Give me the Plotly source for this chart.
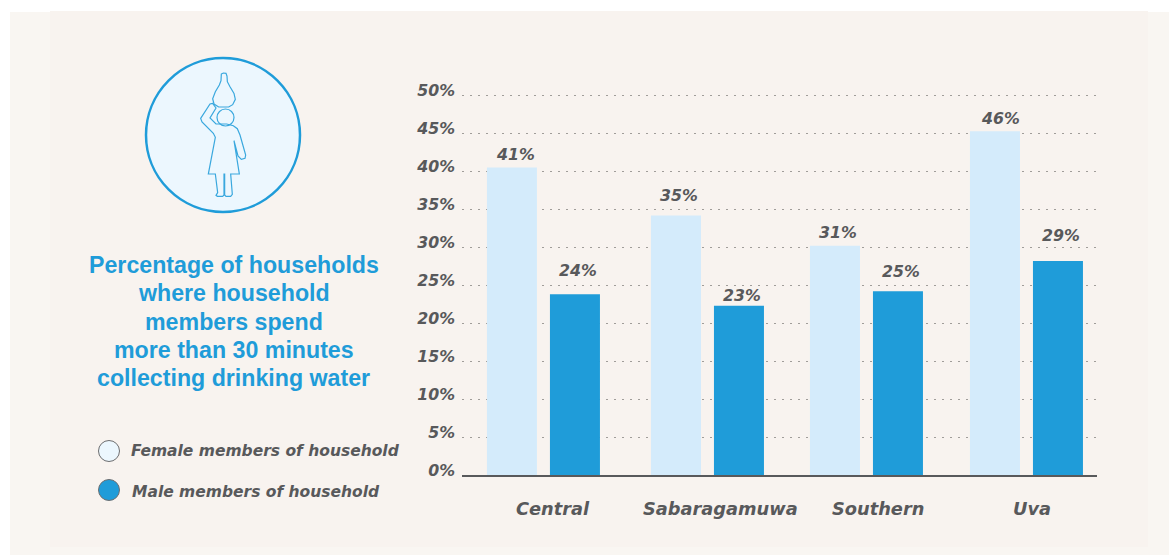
import plotly.graph_objects as go

W, H = 1169, 556
L, R, T, B = 462, 1097, 95.5, 475
Y_TOP = 50.2
T_EXT = B - (B - T) * Y_TOP / 50
STEP = 161  # pixels per category on the x axis

categories = ["Central", "Sabaragamuwa", "Southern", "Uva"]
female_values = [40.5, 34.2, 30.2, 45.3]
male_values = [23.8, 22.3, 24.2, 28.2]
female_labels = ["41%", "35%", "31%", "46%"]
male_labels = ["24%", "23%", "25%", "29%"]
y_ticks = list(range(0, 55, 5))
y_tick_labels = [f"{v}%" for v in y_ticks]
title_lines = ["Percentage of households", "where household", "members spend",
               "more than 30 minutes", "collecting drinking water"]

# style: pixel adjustments, not data
group_nudge = [-0.5, 2.5, 0.5, -0.5]
category_label_shift = [9, 16, 12, 5]
female_label_shift = [4, 3, 3, 6]
male_label_shift = [3, 3, 3, 3]
female_label_lift = [13, 20, 13, 13]
male_label_lift = [24, 10, 20, 25]

BLUE = "#1f9cd9"
PALE = "#d4ebfb"
TEXT = "#58595b"
FONT = "DejaVu Sans"
BOLD = "<b><i>%s</i></b>"


def px(x):
    return (x - L) / (R - L)


def py(y):
    return (B - y) / (B - T_EXT)


def rect(x0, y0, x1, y1, fill, line=None, width=0, kind="rect", layer="below"):
    return dict(type=kind, xref="paper", yref="paper", x0=px(x0), x1=px(x1), y0=py(y0), y1=py(y1),
                fillcolor=fill, line=dict(color=line or fill, width=width), layer=layer)


def zoom_path(points, closed=True):
    pts = [(130 + a / 3, 40 + b / 3) for a, b in points]
    d = "M" + " L".join(f"{px(a):.5f},{py(b):.5f}" for a, b in pts)
    return dict(type="path", xref="paper", yref="paper", path=d + (" Z" if closed else ""),
                line=dict(color="#3aa8de", width=1.2), fillcolor="rgba(0,0,0,0)", layer="above")


jar = [(274, 102), (280, 99), (288, 100), (291, 108), (292, 125), (300, 140), (312, 160), (316, 178),
       (308, 194), (296, 201), (266, 201), (252, 192), (248, 176), (256, 155), (268, 135), (273, 122)]
body = [(248, 190), (240, 192), (212, 235), (216, 246), (250, 280), (256, 292), (235, 402), (256, 402),
        (263, 458), (258, 466), (262, 469), (278, 469), (282, 465), (282, 402), (284, 402), (284, 465),
        (288, 469), (302, 469), (307, 463), (302, 402), (328, 402), (312, 302), (324, 348), (334, 358),
        (345, 355), (347, 345), (330, 285), (322, 266), (310, 257), (290, 252), (258, 252), (240, 234),
        (258, 204)]

shapes = [
    rect(10, 12, 1169, 555, "#f9f6f2"),
    rect(50, 11, 1148, 547, "#f8f3ef"),
    rect(146, 58, 300, 212, "#ecf7fe", BLUE, 2.5, "circle"),
    zoom_path(jar), zoom_path(body),
    dict(type="circle", xref="paper", yref="paper", x0=px(217), x1=px(234), y0=py(109), y1=py(126),
         line=dict(color="#3aa8de", width=1.2), fillcolor="rgba(0,0,0,0)", layer="above"),
    rect(98.5, 440.5, 119.5, 461.5, "#ecf7fe", "#6d6e70", 1, "circle"),
    rect(98.5, 479.5, 119.5, 500.5, BLUE, "#6d6e70", 1, "circle"),
]

label_font = dict(family=FONT, size=15.8, color=TEXT)
legend_font = dict(family=FONT, size=15.5, color=TEXT)

annotations = [
    dict(text=f"<b>{line}</b>", x=px(233.5), y=py(265 + i * 28.3), xref="paper", yref="paper",
         showarrow=False, xanchor="center", yanchor="middle",
         font=dict(family="Liberation Sans", size=23.2, color=BLUE))
    for i, line in enumerate(title_lines)
] + [
    dict(text=BOLD % "Female members of household", x=px(128.5), y=py(451), xref="paper", yref="paper",
         xanchor="left", yanchor="middle", showarrow=False, font=legend_font),
    dict(text=BOLD % "Male members of household", x=px(129.5), y=py(492), xref="paper", yref="paper",
         xanchor="left", yanchor="middle", showarrow=False, font=legend_font),
]

for i, c in enumerate(categories):
    annotations.append(dict(text=BOLD % female_labels[i], x=c, y=female_values[i], xref="x", yref="y",
                            xshift=group_nudge[i] - 31.5 + female_label_shift[i], yshift=female_label_lift[i],
                            xanchor="center", yanchor="middle", showarrow=False, font=label_font))
    annotations.append(dict(text=BOLD % male_labels[i], x=c, y=male_values[i], xref="x", yref="y",
                            xshift=group_nudge[i] + 31.5 + male_label_shift[i], yshift=male_label_lift[i],
                            xanchor="center", yanchor="middle", showarrow=False, font=label_font))
    annotations.append(dict(text=BOLD % c, x=c, y=py(509), xref="x", yref="paper",
                            xshift=category_label_shift[i], xanchor="center", yanchor="middle",
                            showarrow=False, font=dict(family=FONT, size=17.8, color=TEXT)))

fig = go.Figure()
fig.add_bar(x=categories, y=female_values, name="Female members of household",
            marker=dict(color=PALE, line_width=0), width=50 / STEP,
            offset=[(n - 56.5) / STEP for n in group_nudge])
fig.add_bar(x=categories, y=male_values, name="Male members of household",
            marker=dict(color=BLUE, line_width=0), width=50 / STEP,
            offset=[(n + 6.5) / STEP for n in group_nudge])

fig.update_layout(
    width=W, height=H, autosize=False, showlegend=False,
    margin=dict(l=L, r=W - R, t=T_EXT, b=H - B, pad=0),
    paper_bgcolor="#ffffff", plot_bgcolor="rgba(0,0,0,0)",
    barmode="overlay",
    shapes=shapes, annotations=annotations,
    xaxis=dict(type="category", categoryorder="array", categoryarray=categories,
               range=[-0.509, 3.435], showgrid=False, zeroline=False, showticklabels=False,
               ticks="", showline=True, linecolor="#58595b", linewidth=1.5),
    yaxis=dict(range=[0, Y_TOP], tickmode="array", tickvals=y_ticks, ticktext=[BOLD % t for t in y_tick_labels],
               tickfont=label_font, showgrid=True, gridcolor="#a09d99", gridwidth=1, griddash="1.5px,6.5px",
               zeroline=False, ticks="", showline=False, ticklabelshift=-5, ticklabelstandoff=6),
)
fig.write_html("out.html", config={"displayModeBar": False},
               post_script="document.body.style.margin='0';document.body.style.overflow='hidden';")
